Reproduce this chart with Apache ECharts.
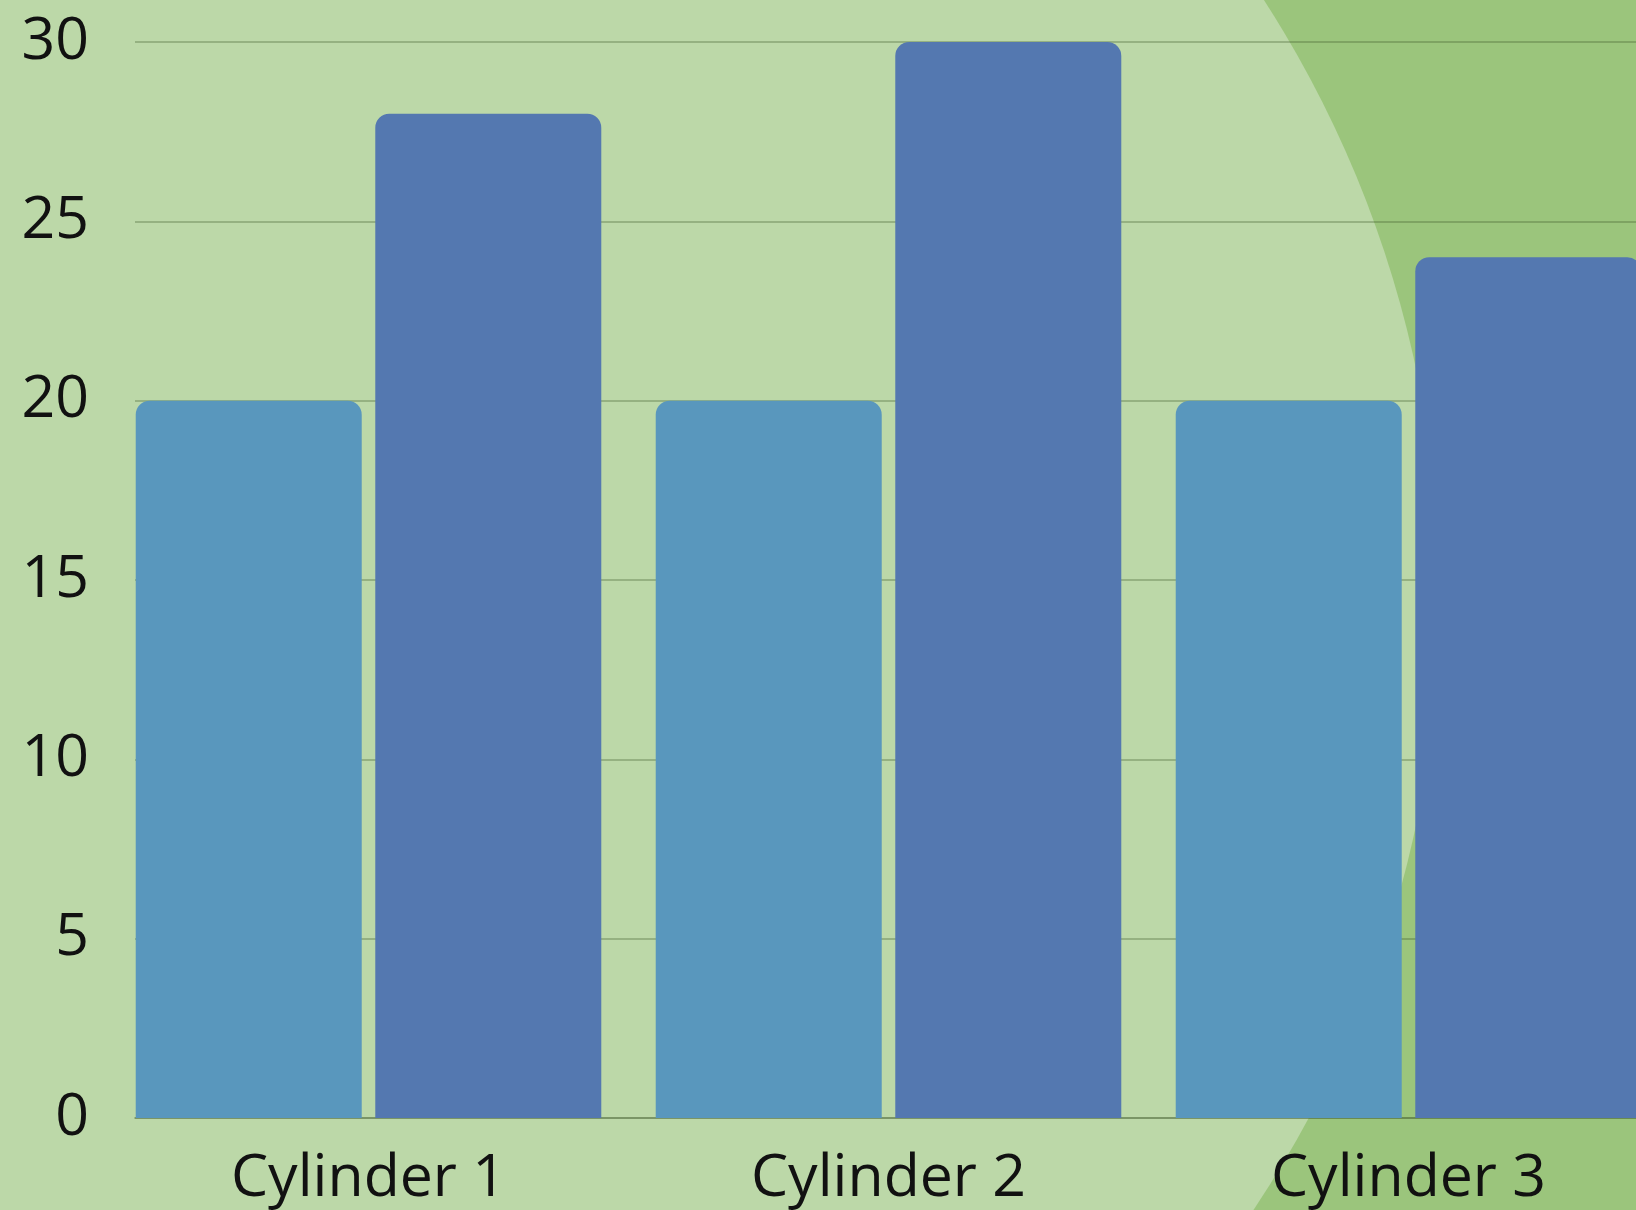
<!DOCTYPE html>
<html>
<head>
<meta charset="utf-8">
<title>Cylinders</title>
<script src="https://cdn.jsdelivr.net/npm/echarts@6/dist/echarts.min.js"></script>
<style>
  html, body { margin: 0; padding: 0; background: #9bc57c; }
  #chart { width: 1636px; height: 1210px; }
</style>
</head>
<body>
<div id="chart"></div>
<script>
const categories = ['Cylinder 1', 'Cylinder 2', 'Cylinder 3']
const seriesA = [20, 20, 20]
const seriesB = [28, 30, 24]
const yTicks = { min: 0, max: 30, interval: 5 }

const gridLineColor = 'rgba(60, 85, 40, 0.3)'
const labelFont = { fontFamily: 'Open Sans', fontSize: 59, color: '#111' }

const chart = echarts.init(document.getElementById('chart'))

chart.setOption({
  backgroundColor: '#9bc57c',
  animation: false,
  // light green disc behind the plot
  graphic: [{
    type: 'circle',
    z: -100,
    silent: true,
    shape: { cx: 340, cy: 597, r: 1100 },
    style: { fill: '#bcd8a8' }
  }],
  grid: [
    // plot runs past the right edge, the third group is cut off
    { left: 108.5, top: 42, width: 1560, height: 1076, outerBoundsMode: 'none' },
    { left: 135, top: 42, right: 0, height: 1076, outerBoundsMode: 'none' }
  ],
  xAxis: [
    {
      type: 'category',
      gridIndex: 0,
      data: categories,
      axisLine: { show: false },
      axisTick: { show: false },
      axisLabel: { ...labelFont, margin: 32 }
    },
    {
      type: 'value',
      gridIndex: 1,
      min: 0,
      max: 1,
      axisLine: { show: true, lineStyle: { color: gridLineColor, width: 2 } },
      axisTick: { show: false },
      axisLabel: { show: false },
      splitLine: { show: false }
    }
  ],
  yAxis: [
    {
      type: 'value',
      gridIndex: 0,
      ...yTicks,
      axisLine: { show: false },
      axisTick: { show: false },
      axisLabel: { show: false },
      splitLine: { show: false }
    },
    {
      type: 'value',
      gridIndex: 1,
      ...yTicks,
      axisLine: { show: false },
      axisTick: { show: false },
      axisLabel: { ...labelFont, margin: 46 },
      splitLine: { lineStyle: { color: gridLineColor, width: 2 } }
    }
  ],
  series: [
    {
      name: 'Series 1',
      type: 'bar',
      xAxisIndex: 0,
      yAxisIndex: 0,
      data: seriesA,
      barWidth: 226,
      barGap: '6%',
      itemStyle: { color: '#5997bd', borderRadius: [14, 14, 0, 0] }
    },
    {
      name: 'Series 2',
      type: 'bar',
      xAxisIndex: 0,
      yAxisIndex: 0,
      data: seriesB,
      barWidth: 226,
      barGap: '6%',
      itemStyle: { color: '#5478b0', borderRadius: [14, 14, 0, 0] }
    }
  ]
})
</script>
</body>
</html>
